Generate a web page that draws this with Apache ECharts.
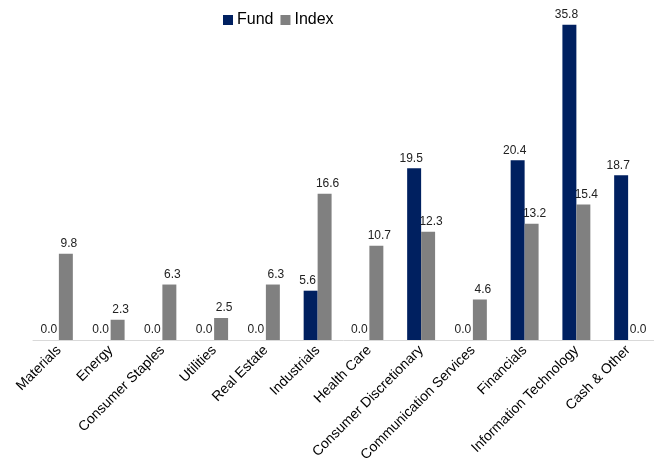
<!DOCTYPE html>
<html><head><meta charset="utf-8">
<script src="https://cdn.jsdelivr.net/npm/echarts@6/dist/echarts.min.js"></script>
<style>html,body{margin:0;padding:0;background:#fff}#c{width:654px;height:472px}</style>
</head><body><div id="c"></div>
<script>
var categories = ["Materials","Energy","Consumer Staples","Utilities","Real Estate","Industrials","Health Care","Consumer Discretionary","Communication Services","Financials","Information Technology","Cash & Other"];
var fund = [0.0,0.0,0.0,0.0,0.0,5.6,0.0,19.5,0.0,20.4,35.8,18.7];
var index = [9.8,2.3,6.3,2.5,6.3,16.6,10.7,12.3,4.6,13.2,15.4,0.0];
var chart = echarts.init(document.getElementById('c'));
var lbl = {show:true, position:'top', distance:4, color:'#222', fontSize:12, fontFamily:'Liberation Sans', formatter:function(p){return p.value.toFixed(1);}};
chart.setOption({
  animation:false,
  textStyle:{fontFamily:'Liberation Sans'},
  legend:{top:7, left:218, itemWidth:10, itemHeight:10, itemGap:7, icon:'rect',
    textStyle:{fontSize:16, color:'#000', padding:[0,0,0,-1]}, data:['Fund','Index']},
  grid:{left:33, right:-3, top:23, bottom:132},
  xAxis:{type:'category', data:categories,
    axisLine:{lineStyle:{color:'#d9d9d9'}}, axisTick:{show:false},
    axisLabel:{interval:0, rotate:45, fontSize:14, color:'#000', margin:8}},
  yAxis:{type:'value', min:0, max:36, show:false, splitLine:{show:false}},
  series:[
    {name:'Fund', type:'bar', data:fund, itemStyle:{color:'#002060'}, barGap:'0%', barCategoryGap:'46%', label:Object.assign({}, lbl, {offset:[-3,0]})},
    {name:'Index', type:'bar', data:index, itemStyle:{color:'#808080'}, label:Object.assign({}, lbl, {offset:[3,0]})}
  ]
});
</script></body></html>
